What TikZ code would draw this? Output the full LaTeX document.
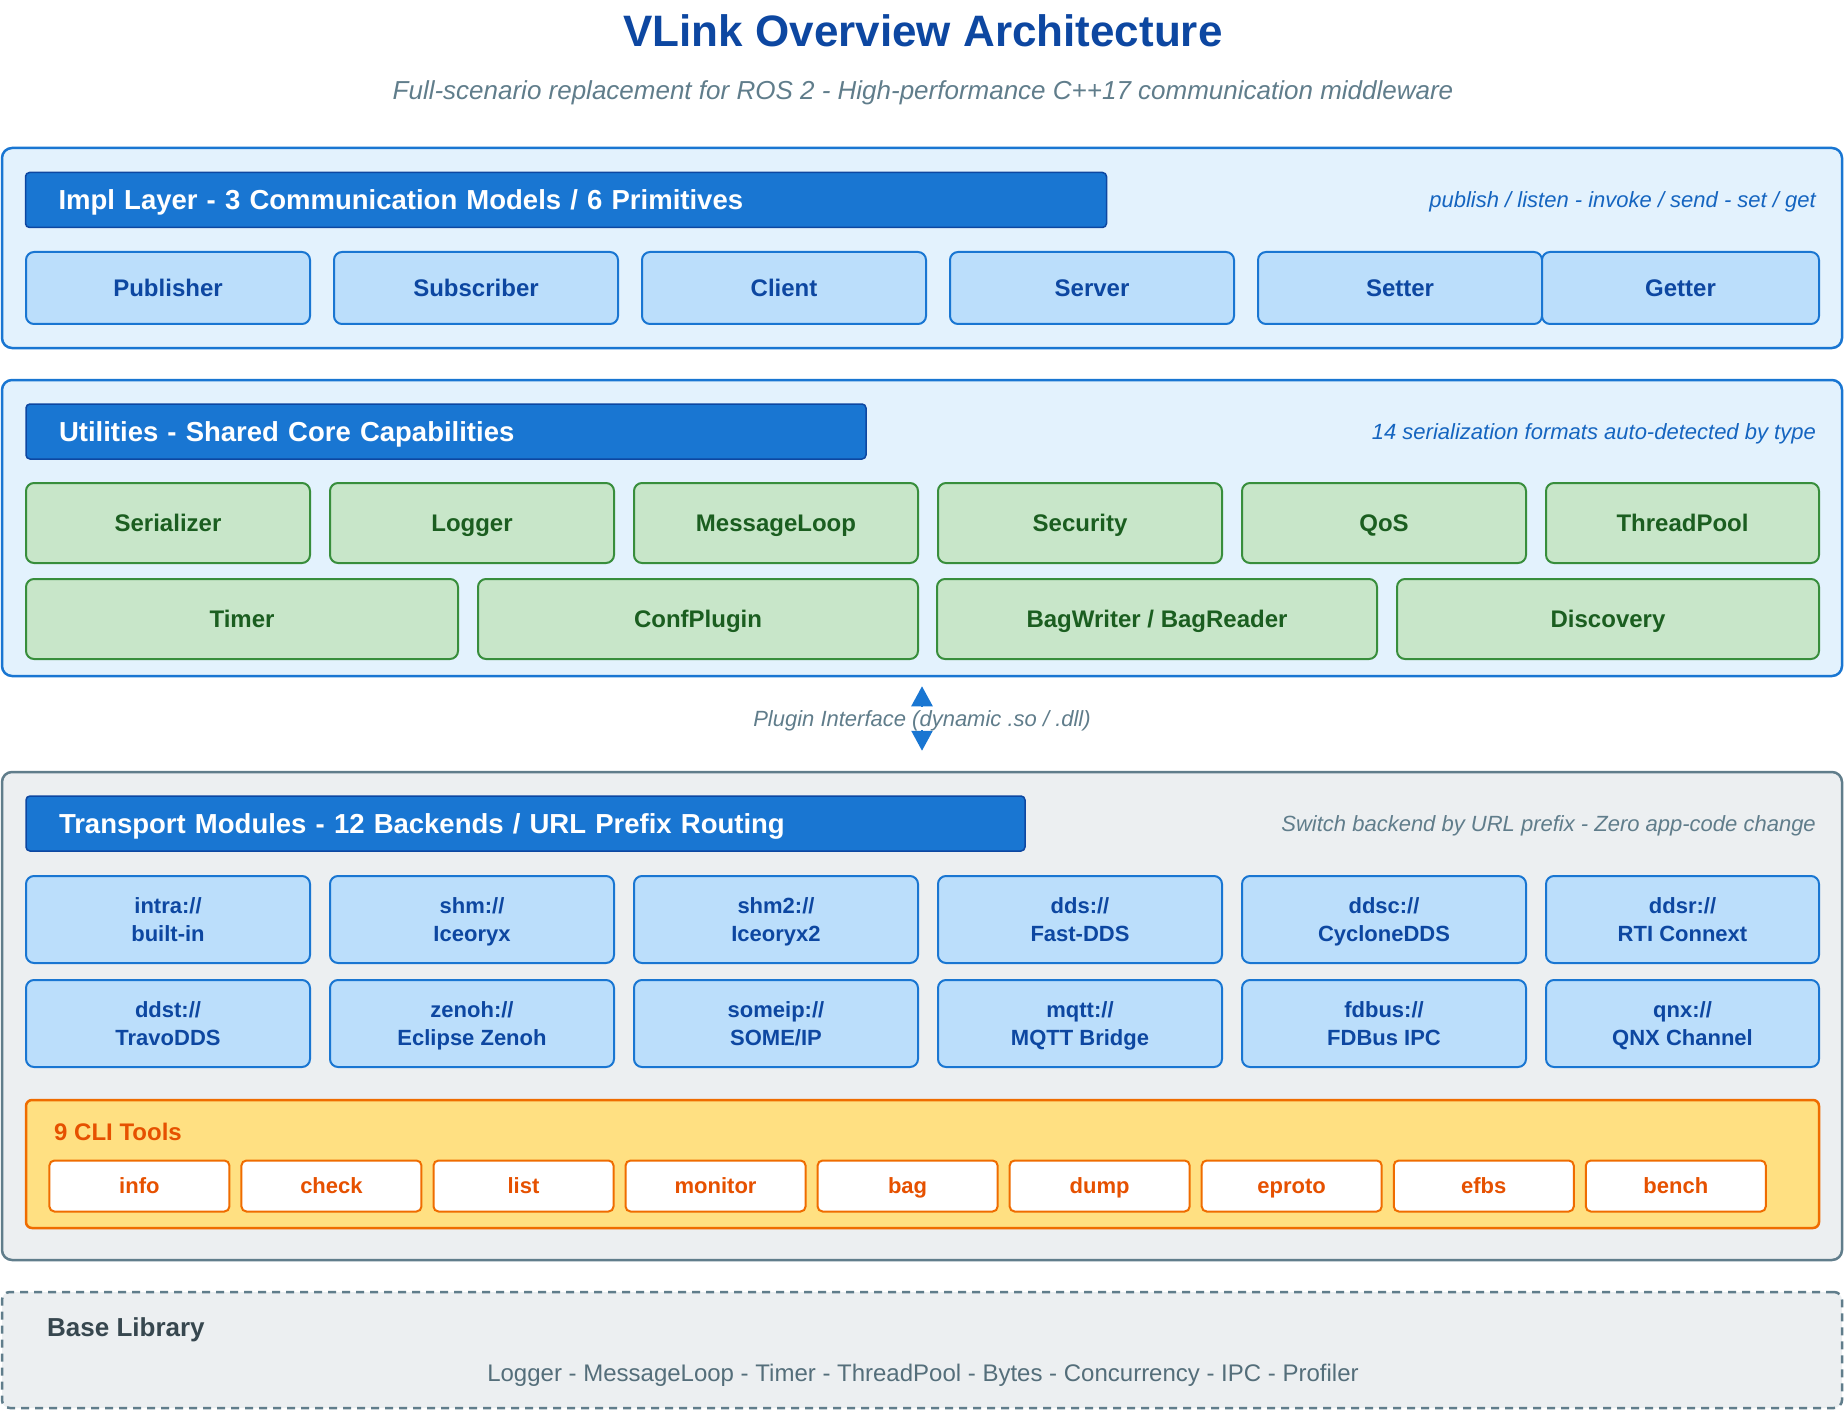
\documentclass[tikz,border=0pt]{standalone}
\usepackage{fontspec}
\setmainfont{Liberation Sans}
\usepackage{xcolor}
\usetikzlibrary{arrows.meta}

\definecolor{deepblue}{HTML}{0D47A1}
\definecolor{midblue}{HTML}{1976D2}
\definecolor{noteblue}{HTML}{1565C0}
\definecolor{paleblue}{HTML}{E3F2FD}
\definecolor{boxblue}{HTML}{BBDEFB}
\definecolor{slate}{HTML}{607D8B}
\definecolor{slatedark}{HTML}{37474F}
\definecolor{slatemid}{HTML}{546E7A}
\definecolor{palegrey}{HTML}{ECEFF1}
\definecolor{boxgreen}{HTML}{C8E6C9}
\definecolor{edgegreen}{HTML}{388E3C}
\definecolor{textgreen}{HTML}{1B5E20}
\definecolor{boxamber}{HTML}{FFE082}
\definecolor{edgeorange}{HTML}{EF6C00}
\definecolor{textorange}{HTML}{E65100}

\tikzset{
  capline/.style={text height={0.72*#1}, text depth=0pt},
  layer/.style={draw=#1, line width=2.5pt, rounded corners=10pt, inner sep=0pt},
  hdrbar/.style={draw=deepblue, fill=midblue, line width=1.5pt, rounded corners=4pt,
    text=white, font=\bfseries\fontsize{27.5}{32}\selectfont, align=left, capline=27.5,
    inner xsep=33pt, inner ysep=0pt, minimum height=55pt},
  note/.style={anchor=east, capline=22, inner sep=0pt, font=\itshape\fontsize{22}{26}\selectfont},
  prim/.style={draw=midblue, fill=boxblue, line width=2pt, rounded corners=8pt, inner sep=0pt, capline=24,
    text=deepblue, font=\bfseries\fontsize{24}{28}\selectfont, minimum height=72pt},
  util/.style={draw=edgegreen, fill=boxgreen, line width=2pt, rounded corners=8pt, inner sep=0pt, capline=24,
    text=textgreen, font=\bfseries\fontsize{24}{28}\selectfont, minimum height=80pt},
  backend/.style={draw=midblue, fill=boxblue, line width=2pt, rounded corners=8pt, inner sep=0pt,
    text=deepblue, font=\bfseries\fontsize{22}{28}\selectfont, align=center, minimum height=87pt},
  tool/.style={draw=edgeorange, fill=white, line width=2pt, rounded corners=5pt, inner sep=0pt, capline=22,
    text=textorange, font=\bfseries\fontsize{22}{26}\selectfont,
    minimum width=180pt, minimum height=51pt}
}

\begin{document}
\begin{tikzpicture}[x=1pt, y=-1pt]
    \useasboundingbox (0,0) rectangle (1846,1412);

    % 1. Title
    \node[capline=44, font=\bfseries\fontsize{44}{50}\selectfont, text=deepblue] (title) at (923,31) {VLink Overview Architecture};
    \node[capline=26, font=\itshape\fontsize{26}{30}\selectfont, text=slate] (subtitle) at (923,90)
        {Full-scenario replacement for ROS 2 - High-performance C++17 communication middleware};

    % 2. Impl layer
    \node[layer=midblue, fill=paleblue, minimum width=1840pt, minimum height=200pt] (impl) at (922,248) {};
    \node[hdrbar, text width=1015pt] (implhdr) at (566,200) {Impl Layer - 3 Communication Models / 6 Primitives};
    \node[note, text=noteblue] (implnote) at (1816,200) {publish / listen - invoke / send - set / get};
    \foreach \cx/\w/\name/\txt in {168/284/pub/Publisher, 476/284/sub/Subscriber, 784/284/cli/Client,
        1092/284/srv/Server, 1400/284/set/Setter, 1680.5/277/get/Getter}
        \node[prim, minimum width=\w pt] (\name) at (\cx,288) {\txt};

    % 3. Utilities layer
    \node[layer=midblue, fill=paleblue, minimum width=1840pt, minimum height=296pt] (utils) at (922,528) {};
    \node[hdrbar, text width=774pt] (utilhdr) at (446,431.5) {Utilities - Shared Core Capabilities};
    \node[note, text=noteblue] (utilnote) at (1816,432) {14 serialization formats auto-detected by type};
    \foreach \cx/\w/\name/\txt in {168/284/ser/Serializer, 472/284/log/Logger, 776/284/loop/MessageLoop,
        1080/284/sec/Security, 1384/284/qos/QoS, 1682.5/273/pool/ThreadPool}
        \node[util, minimum width=\w pt] (\name) at (\cx,523) {\txt};
    \foreach \cx/\w/\name/\txt in {242/432/tim/Timer, 698/440/conf/ConfPlugin,
        1157/440/bag/{BagWriter / BagReader}, 1608/422/disc/Discovery}
        \node[util, minimum width=\w pt] (\name) at (\cx,619) {\txt};

    % 4. Transport layer
    \node[layer=slate, fill=palegrey, minimum width=1840pt, minimum height=488pt] (trans) at (922,1016) {};
    \node[hdrbar, text width=933pt] (transhdr) at (525.5,823.5) {Transport Modules - 12 Backends / URL Prefix Routing};
    \node[note, text=slate] (transnote) at (1816,824) {Switch backend by URL prefix - Zero app-code change};
    \foreach \cx/\w/\name/\url/\impl in {168/284/intra/{intra://}/built-in, 472/284/shm/{shm://}/Iceoryx,
        776/284/shmtwo/{shm2://}/Iceoryx2, 1080/284/dds/{dds://}/Fast-DDS, 1384/284/ddsc/{ddsc://}/CycloneDDS,
        1682.5/273/ddsr/{ddsr://}/RTI Connext}
        \node[backend, minimum width=\w pt] (\name) at (\cx,919.5) {\url\rule{0pt}{21pt}\\\impl\vphantom{lp}};
    \foreach \cx/\w/\name/\url/\impl in {168/284/ddst/{ddst://}/TravoDDS, 472/284/zenoh/{zenoh://}/Eclipse Zenoh,
        776/284/someip/{someip://}/{SOME/IP}, 1080/284/mqtt/{mqtt://}/MQTT Bridge, 1384/284/fdbus/{fdbus://}/FDBus IPC,
        1682.5/273/qnx/{qnx://}/QNX Channel}
        \node[backend, minimum width=\w pt] (\name) at (\cx,1023.5) {\url\rule{0pt}{21pt}\\\impl\vphantom{lp}};

    % 5. CLI tools
    \node[draw=edgeorange, fill=boxamber, line width=2.5pt, rounded corners=6pt, inner sep=0pt,
        minimum width=1793pt, minimum height=128pt] (clibox) at (922.5,1164) {};
    \node[anchor=west, capline=24, inner sep=0pt, text=textorange, font=\bfseries\fontsize{24}{28}\selectfont]
        (clititle) at (54,1131.5) {9 CLI Tools};
    \foreach \txt [count=\i from 0] in {info, check, list, monitor, bag, dump, eproto, efbs, bench}
        \node[tool] (tool\i) at (139.4+\i*192.05,1186) {\txt};

    % 6. Base library
    \node[draw=slate, fill=palegrey, dash pattern=on 8pt off 6pt, line width=2.5pt, rounded corners=8pt,
        inner sep=0pt, minimum width=1840pt, minimum height=116pt] (base) at (922,1350) {};
    \node[anchor=west, capline=26, inner sep=0pt, text=slatedark, font=\bfseries\fontsize{26}{30}\selectfont]
        (basetitle) at (47,1327) {Base Library};
    \node[capline=24, text=slatemid, font=\fontsize{24}{28}\selectfont] (baselist) at (923,1372.5)
        {Logger - MessageLoop - Timer - ThreadPool - Bytes - Concurrency - IPC - Profiler};

    % 7. Plugin interface arrow
    \draw[{Triangle[length=20pt,width=21pt]}-{Triangle[length=20pt,width=21pt]}, midblue, line width=2.5pt,
        shorten <=9pt, shorten >=20pt] (utils.south) -- (trans.north)
        node[pos=0.44, fill=white, capline=22, text=slate, font=\itshape\fontsize{22}{26}\selectfont] (plugin)
        {Plugin Interface (dynamic .so / .dll)};
\end{tikzpicture}
\end{document}
